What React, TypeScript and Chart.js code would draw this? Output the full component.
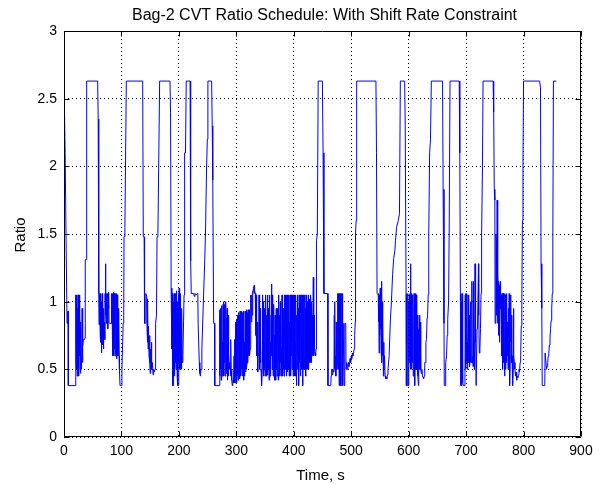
import React, { useEffect, useRef } from 'react';
import { Chart, registerables } from 'chart.js';

Chart.register(...registerables);

const TITLE = 'Bag-2 CVT Ratio Schedule: With Shift Rate Constraint';
const X_LABEL = 'Time, s';
const Y_LABEL = 'Ratio';
const X_TICKS = [0, 100, 200, 300, 400, 500, 600, 700, 800, 900];
const Y_TICKS = [0, 0.5, 1, 1.5, 2, 2.5, 3];

// [time s, ratio] samples
const startSegment: [number, number][] = [
  [0, 2.63], [1.7, 2.63], [2.0, 2.1], [3.3, 2.1], [3.6, 1.45], [5.0, 1.45], [5.3, 0.84], [6.4, 0.84], [6.6, 0.93], [7.3, 0.93], [7.5, 0.38], [20.3, 0.38],
  [20.5, 1.05], [21, 0.55], [21.5, 1.05], [22, 0.5], [22.5, 1.05], [23, 0.45], [23.5, 0.95], [24, 0.52], [24.5, 1.05], [25, 0.48], [25.5, 0.9], [26, 0.45], [26.5, 1.05], [27, 0.6], [27.5, 1.0], [28, 0.5], [28.5, 0.85], [29, 0.47], [29.5, 0.62], [30.5, 0.5], [31.5, 0.95], [32, 0.55], [33, 0.68], [34, 0.72], [35, 0.72], [36, 0.73], [36.6, 0.73], [37, 1.31], [38.5, 1.31], [39.5, 2.63], [58.6, 2.63],
  [59.5, 2.35], [60.5, 1.06], [61, 0.83], [61.5, 1.06], [62, 0.9], [62.5, 1.06], [63, 0.75], [63.5, 1.06], [64, 0.7], [64.5, 1.0], [65, 0.62], [65.5, 0.95], [66, 0.72], [66.5, 1.06], [67, 0.68], [67.5, 1.0], [68, 0.85], [68.5, 0.65], [69, 0.95], [69.5, 0.72], [70, 0.85], [71, 0.72], [71.5, 1.06], [72, 0.9], [72.6, 1.28], [73, 0.9], [73.5, 0.85], [74, 1.06], [74.5, 0.84], [75.5, 0.84], [76, 1.06], [76.5, 0.8], [77, 1.06], [77.5, 0.95], [78, 1.07], [78.5, 0.84], [80, 0.84], [82, 0.84], [82.5, 1.06], [83, 0.84], [84, 0.84], [84.5, 1.06], [85, 0.6], [85.5, 1.06], [86, 0.62], [86.5, 1.07], [87, 0.6], [87.5, 1.06], [88, 0.65], [88.5, 1.06], [89, 0.6], [89.5, 1.05], [90, 0.62], [90.5, 1.06], [91, 0.6], [91.5, 1.06], [92, 0.58], [92.5, 1.05], [93, 0.6], [93.5, 1.0], [94, 0.6], [94.5, 0.95], [95, 0.6], [95.5, 0.85], [96, 0.6], [96.5, 0.5], [97.5, 0.38], [100.4, 0.38], [100.8, 0.5], [101.5, 0.6], [102.5, 0.6], [103, 0.84], [104, 0.9], [104.5, 1.48], [106, 1.55], [108.5, 2.63], [137, 2.63],
  [138, 1.48], [139.5, 1.48], [140, 1.06], [140.5, 0.84], [142, 0.84], [142.5, 1.06], [144, 1.04], [144.5, 0.8], [145, 1.02], [145.5, 0.7], [146, 0.95], [146.5, 0.65], [147, 0.82], [148, 0.6], [149, 0.75], [149.5, 0.55], [150, 0.47], [151, 0.65], [151.5, 0.5], [152, 0.7], [153, 0.5], [154, 0.55], [155, 0.46], [156, 0.5], [157, 0.48], [158.5, 0.5], [159, 0.6], [160, 0.84], [161, 0.9], [162, 1.48], [163.5, 1.5], [166.5, 2.63], [184.5, 2.63],
  [185.5, 2.4], [186.5, 1.1], [187.5, 1.06], [188, 0.65], [188.5, 1.06], [189, 0.38], [190, 0.38], [190.5, 1.0], [191, 0.5], [191.5, 1.06], [192, 0.45], [192.5, 1.06], [193, 0.5], [193.5, 1.0], [194, 0.55], [194.5, 1.06], [195, 0.5], [195.5, 1.05], [196, 0.6], [196.5, 1.08], [197, 0.45], [197.5, 1.0], [198, 0.38], [199, 0.38], [199.5, 1.06], [200, 0.55], [200.5, 1.1], [201, 0.5], [201.5, 1.0], [202, 0.6], [202.5, 1.06], [203, 0.5], [204, 0.8], [204.5, 0.5], [205, 0.95], [206, 0.55], [207, 0.6], [208, 0.82], [209, 1.05], [210, 2.1], [211.5, 2.1], [212.8, 2.63], [219.5, 2.63],
  [220.5, 1.3], [221.5, 1.06], [226, 1.06], [226.5, 1.04], [228, 1.06], [230, 1.05], [233, 1.06], [233.5, 0.84], [235, 0.84], [235.5, 0.55], [236.5, 0.47], [237.5, 0.45], [238.5, 0.5], [240, 0.65], [241.5, 0.85], [243, 1.05], [245, 1.3], [246.5, 1.55], [248, 1.95], [249.5, 2.2], [250.5, 2.63], [257, 2.63],
];

const middleSegment: [number, number][] = [
  [258, 2.3], [259, 1.9], [260.5, 0.84], [262, 0.84], [262.5, 0.38], [270.5, 0.38],
  [271, 0.94], [271.5, 0.45], [272, 0.9], [272.5, 0.5], [273, 0.95], [273.5, 0.42], [274, 0.85], [274.5, 0.5], [275, 0.97], [275.5, 0.45], [276, 0.7], [276.5, 0.48], [277, 0.98], [277.5, 0.5], [278, 1.0], [278.5, 0.45], [279, 0.92], [279.5, 0.55], [280, 0.98], [280.5, 0.45], [281, 0.8], [281.5, 0.5], [282, 1.0], [282.5, 0.47], [283, 0.88], [283.5, 0.5], [284, 0.95], [284.5, 0.42], [285, 0.7], [285.5, 0.5], [286, 0.9], [286.5, 0.45], [287, 0.62], [288, 0.5], [289, 0.55], [290, 0.45], [290.5, 0.72], [291, 0.5], [292, 0.42], [293, 0.38], [294, 0.42], [295, 0.4], [296, 0.6], [296.5, 0.4], [297, 0.72], [297.5, 0.42], [298, 0.4], [298.5, 0.85], [299, 0.45], [299.5, 0.82], [300, 0.4], [300.5, 0.87], [301, 0.42], [301.5, 0.75], [302, 0.45], [302.5, 0.9], [303, 0.42], [303.5, 0.86], [304, 0.5], [304.5, 0.92], [305, 0.45], [305.5, 0.9], [306, 0.43], [306.5, 0.93], [307, 0.5], [307.5, 0.9], [308, 0.45], [308.5, 0.8], [309, 0.5], [309.5, 0.93], [310, 0.48], [310.5, 0.88], [311, 0.45], [311.5, 0.92], [312, 0.5], [312.5, 0.93], [313, 0.42], [313.5, 0.7], [314, 0.45], [315, 0.5], [315.5, 0.93], [316, 0.48], [316.5, 0.9], [317, 0.5], [317.5, 0.94], [318, 0.52], [319, 0.55], [319.5, 0.92], [320, 0.55], [320.5, 0.94], [321, 0.6], [322, 0.62], [322.5, 0.94], [323, 0.6], [324, 0.65], [324.5, 1.05], [325, 0.7], [325.5, 1.05], [326, 0.85], [327, 1.05], [327.5, 0.9], [328, 1.08], [329, 1.06], [330, 1.1], [331, 1.12], [331.5, 1.06], [332, 1.08], [333, 1.06], [333.5, 0.75], [334, 1.05], [334.5, 0.9], [335, 1.05], [335.5, 0.6], [336, 0.85], [337, 0.6], [337.5, 0.48], [338, 0.62], [339, 0.6], [339.5, 1.05], [340, 0.55], [340.5, 1.04], [341, 0.5], [341.5, 0.95], [342, 0.55], [342.5, 0.72], [343, 0.5], [343.5, 0.38], [344.5, 0.38], [345, 0.5], [345.5, 1.05], [346, 0.55], [346.5, 1.0], [347, 0.45], [347.5, 0.85], [348, 0.48], [348.5, 0.7], [349, 0.5], [349.5, 0.95], [350, 0.45], [350.5, 0.75], [351, 0.45], [351.5, 1.05], [352, 0.5], [352.5, 0.9], [353, 0.45], [353.5, 0.8], [354, 0.5], [354.5, 1.05], [355, 0.46], [355.5, 0.95], [356, 0.5], [356.5, 0.8], [357, 0.42], [357.5, 1.05], [358, 0.55], [358.5, 0.9], [359, 0.45], [359.5, 0.7], [360, 0.5], [360.5, 0.9], [361, 0.6], [361.5, 1.13], [362, 0.7], [362.5, 1.05], [363, 0.5], [363.5, 0.9], [364, 0.45], [364.5, 0.85], [365, 0.5], [365.5, 0.98], [366, 0.45], [366.5, 0.75], [367, 0.42], [367.5, 0.9], [368, 0.5], [368.5, 0.6], [369, 0.42], [369.5, 0.95], [370, 0.5], [370.5, 0.85], [371, 0.45], [371.5, 0.95], [372, 0.5], [372.5, 0.7], [373, 0.42], [373.5, 1.05], [374, 0.55], [374.5, 0.9], [375, 0.5], [375.5, 0.75], [376, 0.45], [376.5, 1.0], [377, 0.55], [377.5, 0.85], [378, 0.45], [378.5, 0.65], [379, 0.5], [379.5, 1.05], [380, 0.55], [380.5, 0.8], [381, 0.45], [381.5, 0.95], [382, 0.5], [382.5, 0.65], [383, 0.45], [383.5, 0.9], [384, 0.5], [384.5, 1.05], [385, 0.6], [385.5, 1.05], [386, 0.5], [386.5, 0.9], [387, 0.45], [387.5, 1.05], [388, 0.55], [388.5, 0.85], [389, 0.48], [389.5, 1.05], [390, 0.6], [390.5, 0.95], [391, 0.5], [391.5, 1.05], [392, 0.45], [392.5, 0.85], [393, 0.5], [393.5, 1.05], [394, 0.55], [394.5, 0.75], [395, 0.45], [395.5, 1.05], [396, 0.6], [396.5, 0.9], [397, 0.5], [397.5, 1.05], [398, 0.55], [398.5, 0.8], [399, 0.45], [399.5, 1.05], [400, 0.5], [400.5, 0.85], [401, 0.45], [401.5, 1.05], [402, 0.6], [402.5, 0.7], [403, 0.45], [403.5, 1.05], [404, 0.5], [404.5, 0.85], [405, 0.38], [405.5, 0.9], [406, 0.5], [406.5, 1.05], [407, 0.6], [407.5, 0.95], [408, 0.45], [408.5, 0.8], [409, 0.38], [409.5, 1.05], [410, 0.55], [410.5, 0.9], [411, 0.5], [411.5, 1.05], [412, 0.45], [412.5, 0.85], [413, 0.55], [413.5, 1.05], [414, 0.5], [414.5, 0.7], [415, 0.45], [415.5, 1.05], [416, 0.38], [416.5, 0.9], [417, 0.5], [417.5, 1.05], [418, 0.6], [418.5, 0.85], [419, 0.5], [419.5, 1.05], [420, 0.55], [420.5, 0.95], [421, 0.45], [421.5, 1.05], [422, 0.5], [422.5, 0.75], [423, 0.55], [423.5, 1.0], [424, 0.5], [424.5, 0.85], [425, 0.55], [425.5, 1.05], [426, 0.5], [426.5, 0.9], [427, 0.55], [427.5, 1.02], [428, 0.6], [428.5, 0.85], [429, 0.55], [429.5, 1.05], [430, 0.6], [430.5, 0.8], [431, 0.55], [431.5, 1.0], [432, 0.6], [432.5, 0.9], [433, 0.65], [434, 1.18], [434.5, 0.75], [435, 0.6], [435.5, 0.9], [436, 0.65], [437, 0.62], [438, 0.6], [438.7, 0.65], [439.5, 1.45], [441, 1.5], [442.5, 2.63], [449.8, 2.63],
];

const endSegment: [number, number][] = [
  [451, 2.1], [452.5, 1.06], [459, 1.06], [459.5, 0.38], [464.5, 0.38], [465, 0.45], [466, 0.5], [467, 0.46], [468, 0.5], [469, 0.48], [470, 0.52], [470.5, 0.9], [471, 0.5], [471.5, 1.0], [472, 0.55], [473, 0.6], [473.5, 0.45], [474, 0.85], [475, 0.5], [476, 0.55], [476.5, 1.06], [477, 0.6], [477.5, 1.06], [478, 0.5], [478.5, 1.06], [479, 0.38], [479.5, 1.06], [480, 0.45], [480.5, 1.06], [481, 0.6], [481.5, 1.06], [482, 0.38], [483, 0.38], [483.5, 1.06], [484, 0.55], [484.5, 1.06], [485, 0.8], [485.5, 0.38], [486, 0.84], [487, 0.84], [487.5, 0.38], [488.5, 0.38], [489, 0.84], [490.5, 0.84], [491, 0.5], [492, 0.55], [493, 0.5], [494, 0.53], [495, 0.55], [496, 0.52], [497, 0.55], [498, 0.58], [499, 0.55], [500, 0.6], [501, 0.58], [502, 0.62], [503, 0.6], [504, 0.62], [505, 0.65], [506, 0.75], [507, 0.85], [507.5, 1.5], [508.5, 1.6], [509.5, 2.63], [543, 2.63],
  [544, 2.1], [545, 1.06], [547, 1.05], [547.5, 0.85], [548, 1.06], [548.5, 0.62], [549, 1.05], [550, 0.75], [550.5, 1.1], [551, 0.8], [551.5, 1.05], [552, 0.65], [552.5, 1.15], [553, 0.95], [553.5, 0.55], [554, 1.0], [554.5, 0.6], [555, 0.85], [556, 0.45], [556.5, 0.7], [557, 0.5], [558, 0.6], [559, 0.45], [560, 0.43], [561, 0.44], [562, 0.43], [563, 0.46], [564, 0.5], [566, 0.6], [568, 0.85], [570, 1.0], [572, 1.2], [574, 1.32], [576, 1.38], [577, 1.45], [579, 1.55], [582, 1.6], [584, 1.65], [585.5, 2.63], [593, 2.63],
  [594, 2.3], [595.5, 1.06], [596, 0.38], [598, 0.38], [598.5, 1.06], [599, 0.38], [600, 0.38], [600.5, 1.0], [601, 0.55], [601.5, 1.05], [602, 0.6], [602.5, 1.06], [603, 0.5], [603.6, 1.28], [604, 0.85], [604.5, 1.05], [605, 0.5], [605.5, 1.06], [606, 0.6], [606.5, 1.03], [607, 0.55], [607.5, 1.05], [608, 0.45], [609, 0.75], [609.5, 1.06], [610, 0.55], [610.5, 1.06], [611, 0.38], [611.5, 0.8], [612, 1.06], [612.5, 0.5], [613, 1.05], [613.5, 0.6], [614, 0.95], [614.5, 0.5], [615, 0.9], [616, 0.45], [617, 0.38], [617.5, 0.8], [618, 0.55], [619, 0.9], [619.5, 0.5], [620, 0.85], [621, 0.5], [622, 0.47], [623, 0.5], [624, 0.45], [625, 0.44], [626, 0.43], [627, 0.45], [628, 0.55], [629, 0.55], [630, 0.7], [631, 0.72], [632, 0.88], [633, 0.9], [634, 1.05], [635, 1.5], [636.5, 2.1], [638, 2.2], [639.5, 2.63], [659, 2.63],
  [660, 1.83], [661.5, 0.84], [662, 0.38], [664, 0.38], [664.5, 0.55], [666, 0.6], [667, 0.75], [668, 0.87], [669.5, 1.0], [670.5, 1.5], [672, 2.63], [688, 2.63],
  [689, 2.1], [690, 1.06], [690.5, 0.38], [691, 1.06], [691.5, 0.38], [692, 1.0], [692.5, 0.38], [693, 1.06], [693.5, 0.5], [694, 1.05], [694.5, 0.4], [695.5, 0.38], [698, 0.38], [698.5, 1.05], [699, 0.5], [699.5, 1.06], [700, 0.55], [700.5, 0.95], [701, 0.6], [701.5, 1.06], [702, 0.5], [702.5, 0.7], [703, 0.55], [703.5, 1.05], [704, 0.6], [704.5, 0.62], [705, 0.55], [705.5, 0.9], [706, 0.52], [707, 0.65], [707.5, 0.55], [708, 1.0], [708.5, 0.6], [709, 0.55], [710, 1.15], [710.5, 0.6], [711, 0.55], [711.5, 0.6], [712, 0.52], [712.5, 1.15], [713, 0.55], [714, 0.6], [714.5, 0.5], [715.5, 1.28], [716, 0.7], [717, 0.75], [717.5, 0.38], [718.5, 0.38], [719, 0.8], [720, 0.85], [721.5, 1.28], [722, 0.9], [723, 0.62], [724, 0.65], [725, 0.8], [726, 1.06], [727, 1.5], [728.5, 2.0], [729.5, 2.63], [747, 2.63],
  [748, 2.4], [749, 1.83], [750, 1.75], [750.5, 0.84], [751.5, 0.84], [752, 1.5], [753, 1.45], [753.5, 0.9], [754, 1.75], [754.5, 1.35], [755, 0.84], [755.5, 1.2], [756, 1.1], [756.5, 0.75], [757, 1.15], [757.5, 1.12], [758, 0.7], [758.5, 1.1], [759, 0.95], [759.5, 1.15], [760, 1.0], [760.5, 1.06], [761, 0.85], [761.5, 1.05], [762, 0.6], [762.5, 1.06], [763, 0.75], [763.5, 1.0], [764, 0.5], [764.5, 1.06], [765, 0.55], [765.5, 1.06], [766, 0.8], [767, 0.45], [767.5, 1.06], [768, 0.6], [768.5, 1.05], [769, 0.5], [769.5, 0.9], [770, 0.55], [771, 1.06], [771.5, 0.6], [772, 0.85], [773, 0.5], [773.5, 0.95], [774, 0.6], [775, 1.06], [775.5, 0.55], [776, 0.38], [777, 0.6], [777.5, 1.05], [778, 0.7], [779, 0.9], [779.5, 0.55], [780, 0.6], [781, 0.38], [782, 0.5], [782.5, 0.95], [783, 0.6], [784, 0.55], [785, 0.5], [786, 0.45], [787, 0.48], [788, 0.42], [789, 0.45], [790, 0.44], [791, 0.46], [792, 0.5], [793, 0.48], [794, 0.55], [795, 0.6], [796, 0.82], [797, 1.0], [798, 1.6], [799, 2.0], [800, 2.63], [828, 2.63],
  [829.5, 2.58], [830.5, 1.28], [831.5, 1.06], [832, 0.95], [832.5, 0.38], [837, 0.38], [837.5, 0.62], [839, 0.62], [840, 0.5], [841, 0.52], [842, 0.55], [843, 0.6], [844, 0.62], [845, 0.68], [846, 0.73], [847, 0.8], [848, 0.86], [849, 0.95], [850, 1.06], [851, 1.5], [852, 2.63], [857, 2.63],
];

const ratioSchedule = [...startSegment, ...middleSegment, ...endSegment];

const TICK_FONT = "'Liberation Sans Narrow', 'Liberation Sans', Arial, sans-serif";
const LABEL_FONT = "'Liberation Sans', Arial, sans-serif";

const matlabFrame = {
  id: 'matlabFrame',
  afterDraw(chart: any) {
    const { ctx, chartArea } = chart;
    const { left, right, top, bottom } = chartArea;
    const xs = chart.scales.x;
    const ys = chart.scales.y;
    ctx.save();
    ctx.strokeStyle = '#000';
    ctx.lineWidth = 1;
    ctx.setLineDash([]);
    ctx.beginPath();
    const L = Math.round(left) + 0.5;
    const R = Math.round(right) - 0.5;
    const T = Math.round(top) + 0.5;
    const B = Math.round(bottom) - 0.5;
    ctx.rect(L, T, R - L, B - T);
    const tl = 5;
    X_TICKS.forEach((v) => {
      const px = Math.round(xs.getPixelForValue(v)) + 0.5;
      ctx.moveTo(px, B);
      ctx.lineTo(px, B - tl);
      ctx.moveTo(px, T);
      ctx.lineTo(px, T + tl);
    });
    Y_TICKS.forEach((v) => {
      const py = Math.round(ys.getPixelForValue(v)) + 0.5;
      ctx.moveTo(L, py);
      ctx.lineTo(L + tl, py);
      ctx.moveTo(R, py);
      ctx.lineTo(R - tl, py);
    });
    ctx.stroke();

    ctx.fillStyle = '#000';
    ctx.textAlign = 'center';
    ctx.textBaseline = 'alphabetic';
    const cx = (left + right) / 2;
    ctx.font = `16px ${LABEL_FONT}`;
    ctx.fillText(TITLE, cx + 2, 20);
    ctx.font = `15px ${LABEL_FONT}`;
    ctx.fillText(X_LABEL, cx - 2, 480);
    ctx.translate(25, (top + bottom) / 2 + 1);
    ctx.rotate(-Math.PI / 2);
    ctx.fillText(Y_LABEL, 0, 0);
    ctx.restore();
  },
};

export default function App() {
  const canvasRef = useRef<HTMLCanvasElement | null>(null);

  useEffect(() => {
    const canvas = canvasRef.current;
    if (!canvas) return;
    const chart = new Chart(canvas, {
      type: 'line',
      data: {
        datasets: [
          {
            data: ratioSchedule.map(([t, r]) => ({ x: t, y: r })),
            borderColor: '#0000ff',
            borderWidth: 1,
            pointRadius: 0,
            tension: 0,
            fill: false,
          },
        ],
      },
      options: {
        responsive: false,
        animation: false,
        layout: { padding: { top: 31, right: 20, left: 0, bottom: 0 } },
        plugins: {
          legend: { display: false },
          title: { display: false },
          tooltip: { enabled: false },
        },
        scales: {
          x: {
            type: 'linear',
            min: 0,
            max: 900,
            afterBuildTicks: (scale: any) => {
              scale.ticks = X_TICKS.map((v) => ({ value: v }));
            },
            afterFit: (scale: any) => {
              scale.height = 47;
            },
            ticks: {
              color: '#000',
              font: { family: TICK_FONT, size: 14 },
              padding: 6,
              maxRotation: 0,
              autoSkip: false,
              callback: (v: any) => String(v),
            },
            grid: { color: '#000', lineWidth: 1, drawTicks: false },
            border: { display: false, dash: [1, 3] },
          },
          y: {
            type: 'linear',
            min: 0,
            max: 3,
            afterBuildTicks: (scale: any) => {
              scale.ticks = Y_TICKS.map((v) => ({ value: v }));
            },
            afterFit: (scale: any) => {
              scale.width = 64;
            },
            ticks: {
              color: '#000',
              font: { family: TICK_FONT, size: 14 },
              padding: 7,
              autoSkip: false,
              callback: (v: any) => String(v),
            },
            grid: { color: '#000', lineWidth: 1, drawTicks: false },
            border: { display: false, dash: [1, 3] },
          },
        },
      },
      plugins: [matlabFrame],
    } as any);
    return () => chart.destroy();
  }, []);

  return (
    <div style={{ position: 'fixed', left: 0, top: 0, width: 601, height: 484, background: '#fff' }}>
      <canvas ref={canvasRef} width={601} height={484} style={{ display: 'block' }} />
    </div>
  );
}
